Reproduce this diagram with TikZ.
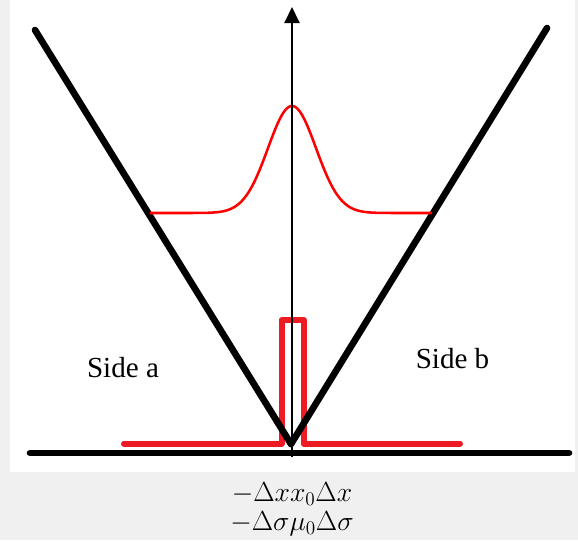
\documentclass[tikz,border=0pt]{standalone}
\usepackage{fontspec}
\setmainfont{Liberation Serif}
\usetikzlibrary{arrows.meta}
\definecolor{bggray}{HTML}{F0F0F0}
\definecolor{pulsered}{HTML}{ED1C24}
\definecolor{gaussred}{HTML}{FF0000}
\tikzset{
  thickblack/.style={line width=5pt, black, line cap=round},
  pulse/.style={line width=4.5pt, pulsered, line cap=round, line join=round},
  gauss/.style={line width=1.9pt, gaussred},
  axisarrow/.style={line width=1.5pt, black, -{Triangle[length=12pt,width=11.25pt]}},
  sidelabel/.style={font=\fontsize{21.8pt}{24pt}\selectfont, inner sep=0pt, anchor=base},
  mathlabel/.style={font=\fontsize{20pt}{22pt}\selectfont, inner sep=0pt, anchor=base}
}
\begin{document}
\begin{tikzpicture}[x=0.75pt,y=-0.75pt]
\useasboundingbox (0,0) rectangle (578,540);
\fill[bggray] (0,0) rectangle (578,540);
\fill[white] (10,0) rectangle (575,472);
% coordinates
\coordinate (axL) at (30,453);
\coordinate (axR) at (569,453);
\coordinate (vbot) at (292,457);
\coordinate (vtop) at (292,7);
\coordinate (laTop) at (35,30);
\coordinate (vtx) at (291,444);
\coordinate (lbTop) at (547,28);
\coordinate (p1) at (124,443.5);
\coordinate (p2) at (281.5,443.5);
\coordinate (p3) at (281.5,320);
\coordinate (p4) at (303.5,320);
\coordinate (p5) at (303.5,443.5);
\coordinate (p6) at (460,443.5);
% red pulse
\draw[pulse] (p1) -- (p2) -- (p3) -- (p4) -- (p5) -- (p6);
% V lines and axis
\draw[thickblack] (laTop) -- (vtx);
\draw[thickblack] (lbTop) -- (vtx);
\draw[thickblack] (axL) -- (axR);
% gaussian
\draw[gauss] plot[domain=150:432, samples=200, smooth] (\x, {213-107*exp(-((\x-292)/24)^2/2)});
% vertical arrow
\draw[axisarrow] (vbot) -- (vtop);
% labels
\node[sidelabel] (sa) at (123,377) {Side a};
\node[sidelabel] (sb) at (452.5,368) {Side b};
\node[mathlabel] (m1) at (292,501) {$-\Delta x x_0 \Delta x$};
\node[mathlabel] (m2) at (292,530) {$-\Delta \sigma \mu_0 \Delta \sigma$};
\end{tikzpicture}
\end{document}
